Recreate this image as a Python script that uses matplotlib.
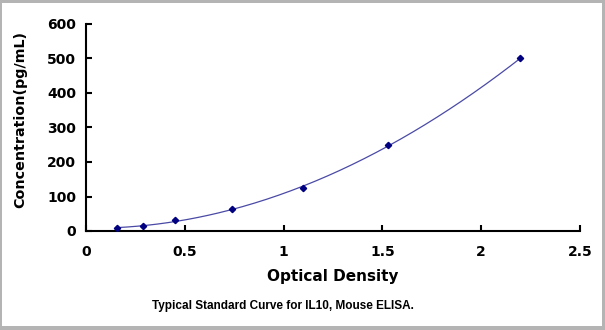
import numpy as np
import matplotlib
matplotlib.use("Agg")
import matplotlib.pyplot as plt
from matplotlib.patches import Rectangle

# standard curve points
od = [0.155, 0.288, 0.45, 0.74, 1.098, 1.53, 2.198]
conc = [7.8, 15.6, 31.25, 62.5, 125, 250, 500]

xticks = [0, 0.5, 1, 1.5, 2, 2.5]
xticklabels = ["0", "0.5", "1", "1.5", "2", "2.5"]
yticks = [0, 100, 200, 300, 400, 500, 600]

plt.rcParams['font.family'] = ['DejaVu Sans']

fig = plt.figure(figsize=(6.05, 3.3), dpi=100, facecolor='#b4b4b4')
# white panel inside the grey frame
fig.patches.append(Rectangle((2/605, 4/330), 599.5/605, 323/330,
                             transform=fig.transFigure, facecolor='white',
                             edgecolor='none', zorder=-5))

ax = fig.add_axes([86/605, 1-231/330, 494/605, 207/330])
ax.set_facecolor('none')
ax.set_zorder(2)

# smooth fitted curve (cubic fit of the standards)
coef = np.polyfit(od, conc, 3)
xs = np.linspace(min(od), max(od), 200)
ax.plot(xs, np.polyval(coef, xs), color='#4a4aa6', lw=0.9, zorder=2)
ax.plot(od, conc, linestyle='none', marker='D', ms=3.2, color='#000080', zorder=3)

ax.set_xlim(0, 2.5)
ax.set_ylim(0, 600)
ax.set_xticks(xticks)
ax.set_xticklabels(xticklabels)
ax.set_yticks(yticks)
for s in ['top', 'right']:
    ax.spines[s].set_visible(False)
for s in ['left', 'bottom']:
    ax.spines[s].set_linewidth(1.5)
ax.tick_params(direction='in', length=4, width=1.5, labelsize=10)
ax.tick_params(axis='x', pad=10)
ax.tick_params(axis='y', pad=7)
for lab in ax.get_xticklabels() + ax.get_yticklabels():
    lab.set_fontweight('bold')

ax.set_xlabel('Optical Density', fontsize=11, fontweight='bold', labelpad=7)
ax.set_ylabel('Concentration(pg/mL)', fontsize=10.3, fontweight='bold')
ax.yaxis.set_label_coords(-0.119, 0.54)

fig.text(283/605, 1-306/330, 'Typical Standard Curve for IL10, Mouse ELISA.',
         ha='center', va='center', fontsize=8.5, fontweight='bold',
         family='Liberation Sans')

fig.savefig('out.png', dpi=100, facecolor=fig.get_facecolor())
